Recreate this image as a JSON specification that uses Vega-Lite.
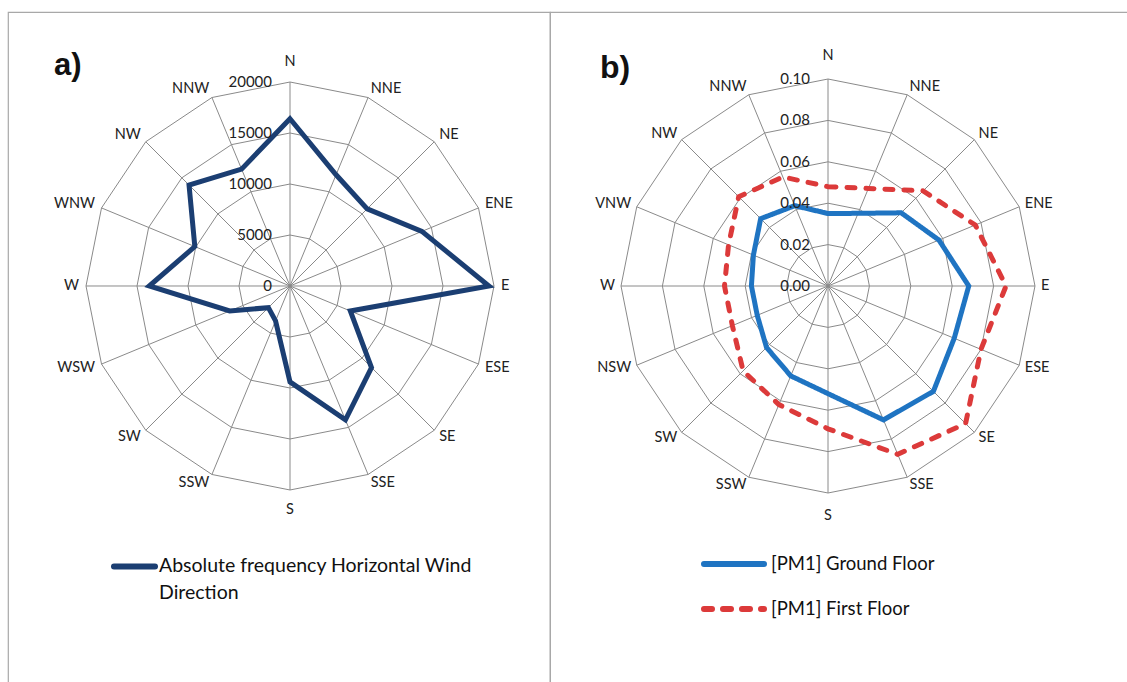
{
  "$schema": "https://vega.github.io/schema/vega-lite/v6.json",
  "padding": {"left": 7, "top": 11, "right": 0, "bottom": 0},
  "spacing": 0,
  "bounds": "flush",
  "background": "white",
  "config": {
    "view": {"stroke": "#a8a8a8", "strokeWidth": 1.2},
    "font": "Lato",
    "style": {"guide-label": {"lineHeight": 27}}
  },
  "datasets": {
    "dirs": [
      {"dir": "N", "deg": 0, "ringA": [5000, 10000, 15000, 20000], "ringB": [0.02, 0.04, 0.06, 0.08, 0.1]},
      {"dir": "NNE", "deg": 22.5, "ringA": [5000, 10000, 15000, 20000], "ringB": [0.02, 0.04, 0.06, 0.08, 0.1]},
      {"dir": "NE", "deg": 45, "ringA": [5000, 10000, 15000, 20000], "ringB": [0.02, 0.04, 0.06, 0.08, 0.1]},
      {"dir": "ENE", "deg": 67.5, "ringA": [5000, 10000, 15000, 20000], "ringB": [0.02, 0.04, 0.06, 0.08, 0.1]},
      {"dir": "E", "deg": 90, "ringA": [5000, 10000, 15000, 20000], "ringB": [0.02, 0.04, 0.06, 0.08, 0.1]},
      {"dir": "ESE", "deg": 112.5, "ringA": [5000, 10000, 15000, 20000], "ringB": [0.02, 0.04, 0.06, 0.08, 0.1]},
      {"dir": "SE", "deg": 135, "ringA": [5000, 10000, 15000, 20000], "ringB": [0.02, 0.04, 0.06, 0.08, 0.1]},
      {"dir": "SSE", "deg": 157.5, "ringA": [5000, 10000, 15000, 20000], "ringB": [0.02, 0.04, 0.06, 0.08, 0.1]},
      {"dir": "S", "deg": 180, "ringA": [5000, 10000, 15000, 20000], "ringB": [0.02, 0.04, 0.06, 0.08, 0.1]},
      {"dir": "SSW", "deg": 202.5, "ringA": [5000, 10000, 15000, 20000], "ringB": [0.02, 0.04, 0.06, 0.08, 0.1]},
      {"dir": "SW", "deg": 225, "ringA": [5000, 10000, 15000, 20000], "ringB": [0.02, 0.04, 0.06, 0.08, 0.1]},
      {"dir": "WSW", "deg": 247.5, "lb": "NSW", "ringA": [5000, 10000, 15000, 20000], "ringB": [0.02, 0.04, 0.06, 0.08, 0.1]},
      {"dir": "W", "deg": 270, "ringA": [5000, 10000, 15000, 20000], "ringB": [0.02, 0.04, 0.06, 0.08, 0.1]},
      {"dir": "WNW", "deg": 292.5, "lb": "VNW", "ringA": [5000, 10000, 15000, 20000], "ringB": [0.02, 0.04, 0.06, 0.08, 0.1]},
      {"dir": "NW", "deg": 315, "ringA": [5000, 10000, 15000, 20000], "ringB": [0.02, 0.04, 0.06, 0.08, 0.1]},
      {"dir": "NNW", "deg": 337.5, "ringA": [5000, 10000, 15000, 20000], "ringB": [0.02, 0.04, 0.06, 0.08, 0.1]}
    ],
    "ticksA": [
      {"level": 0, "label": "0"},
      {"level": 5000, "label": "5000"},
      {"level": 10000, "label": "10000"},
      {"level": 15000, "label": "15000"},
      {"level": 20000, "label": "20000"}
    ],
    "ticksB": [
      {"level": 0, "label": "0.00"},
      {"level": 0.02, "label": "0.02"},
      {"level": 0.04, "label": "0.04"},
      {"level": 0.06, "label": "0.06"},
      {"level": 0.08, "label": "0.08"},
      {"level": 0.1, "label": "0.10"}
    ],
    "wind": [
      {"dir": "N", "value": 16400},
      {"dir": "NNE", "value": 11800},
      {"dir": "NE", "value": 10700},
      {"dir": "ENE", "value": 14000},
      {"dir": "E", "value": 19500},
      {"dir": "ESE", "value": 6400},
      {"dir": "SE", "value": 11300},
      {"dir": "SSE", "value": 14200},
      {"dir": "S", "value": 9400},
      {"dir": "SSW", "value": 3700},
      {"dir": "SW", "value": 3000},
      {"dir": "WSW", "value": 6400},
      {"dir": "W", "value": 13800},
      {"dir": "WNW", "value": 10100},
      {"dir": "NW", "value": 14000},
      {"dir": "NNW", "value": 12400}
    ],
    "pm": [
      {"series": "[PM1] Ground Floor", "dir": "N", "value": 0.035},
      {"series": "[PM1] Ground Floor", "dir": "NNE", "value": 0.038},
      {"series": "[PM1] Ground Floor", "dir": "NE", "value": 0.050},
      {"series": "[PM1] Ground Floor", "dir": "ENE", "value": 0.058},
      {"series": "[PM1] Ground Floor", "dir": "E", "value": 0.068},
      {"series": "[PM1] Ground Floor", "dir": "ESE", "value": 0.066},
      {"series": "[PM1] Ground Floor", "dir": "SE", "value": 0.072},
      {"series": "[PM1] Ground Floor", "dir": "SSE", "value": 0.070},
      {"series": "[PM1] Ground Floor", "dir": "S", "value": 0.052},
      {"series": "[PM1] Ground Floor", "dir": "SSW", "value": 0.047},
      {"series": "[PM1] Ground Floor", "dir": "SW", "value": 0.042},
      {"series": "[PM1] Ground Floor", "dir": "WSW", "value": 0.037},
      {"series": "[PM1] Ground Floor", "dir": "W", "value": 0.037},
      {"series": "[PM1] Ground Floor", "dir": "WNW", "value": 0.039},
      {"series": "[PM1] Ground Floor", "dir": "NW", "value": 0.046},
      {"series": "[PM1] Ground Floor", "dir": "NNW", "value": 0.042},
      {"series": "[PM1] First Floor", "dir": "N", "value": 0.048},
      {"series": "[PM1] First Floor", "dir": "NNE", "value": 0.051},
      {"series": "[PM1] First Floor", "dir": "NE", "value": 0.065},
      {"series": "[PM1] First Floor", "dir": "ENE", "value": 0.077},
      {"series": "[PM1] First Floor", "dir": "E", "value": 0.086},
      {"series": "[PM1] First Floor", "dir": "ESE", "value": 0.080},
      {"series": "[PM1] First Floor", "dir": "SE", "value": 0.094},
      {"series": "[PM1] First Floor", "dir": "SSE", "value": 0.088},
      {"series": "[PM1] First Floor", "dir": "S", "value": 0.069},
      {"series": "[PM1] First Floor", "dir": "SSW", "value": 0.062},
      {"series": "[PM1] First Floor", "dir": "SW", "value": 0.058},
      {"series": "[PM1] First Floor", "dir": "WSW", "value": 0.050},
      {"series": "[PM1] First Floor", "dir": "W", "value": 0.050},
      {"series": "[PM1] First Floor", "dir": "WNW", "value": 0.052},
      {"series": "[PM1] First Floor", "dir": "NW", "value": 0.061},
      {"series": "[PM1] First Floor", "dir": "NNW", "value": 0.057}
    ]
  },
  "hconcat": [
    {
      "width": 542,
      "height": 671,
      "encoding": {
        "x": {"field": "x", "type": "quantitative", "axis": null, "scale": {"domain": [-27647, 25490], "nice": false, "zero": false}},
        "y": {"field": "y", "type": "quantitative", "axis": null, "scale": {"domain": [-38922, 26863], "nice": false, "zero": false}}
      },
      "layer": [
        {
          "data": {"name": "dirs"},
          "transform": [
            {"flatten": ["ringA"], "as": ["r"]},
            {"calculate": "datum.r * sin(datum.deg * PI / 180)", "as": "x"},
            {"calculate": "datum.r * cos(datum.deg * PI / 180)", "as": "y"}
          ],
          "mark": {"type": "line", "interpolate": "linear-closed", "stroke": "#8a8a8a", "strokeWidth": 1},
          "encoding": {"detail": {"field": "r", "type": "nominal"}, "order": {"field": "deg", "type": "quantitative"}}
        },
        {
          "data": {"name": "dirs"},
          "transform": [
            {"calculate": "0", "as": "x"},
            {"calculate": "0", "as": "y"},
            {"calculate": "20000 * sin(datum.deg * PI / 180)", "as": "x2"},
            {"calculate": "20000 * cos(datum.deg * PI / 180)", "as": "y2"}
          ],
          "mark": {"type": "rule", "stroke": "#8a8a8a", "strokeWidth": 1},
          "encoding": {"x2": {"field": "x2"}, "y2": {"field": "y2"}}
        },
        {
          "data": {"name": "wind"},
          "transform": [
            {"lookup": "dir", "from": {"data": {"name": "dirs"}, "key": "dir", "fields": ["deg"]}},
            {"calculate": "datum.value * sin(datum.deg * PI / 180)", "as": "x"},
            {"calculate": "datum.value * cos(datum.deg * PI / 180)", "as": "y"}
          ],
          "mark": {"type": "line", "interpolate": "linear-closed", "strokeWidth": 5, "strokeJoin": "miter"},
          "encoding": {
            "order": {"field": "deg", "type": "quantitative"},
            "color": {
              "datum": "Absolute frequency Horizontal Wind Direction",
              "type": "nominal",
              "scale": {"range": ["#1b3e72"]},
              "legend": {
                "orient": "none", "legendX": 103, "legendY": 531, "title": null, "padding": 0,
                "symbolType": "stroke", "symbolSize": 1681, "symbolStrokeWidth": 6,
                "labelFontSize": 19.5, "labelFont": "Lato", "labelColor": "#111", "labelOffset": 1, "labelLimit": 500,
                "labelBaseline": "top",
                "labelExpr": "['Absolute frequency Horizontal Wind', 'Direction']",
                "encode": {
                  "symbols": {"update": {"strokeCap": {"value": "round"}}},
                  "labels": {"update": {"dy": {"value": -10}}}
                }
              }
            }
          }
        },
        {
          "data": {"name": "dirs"},
          "transform": [
            {"filter": "datum.deg > 0 && datum.deg < 180"},
            {"calculate": "20686 * sin(datum.deg * PI / 180)", "as": "x"},
            {"calculate": "20882 * cos(datum.deg * PI / 180)", "as": "y"}
          ],
          "mark": {"type": "text", "fontSize": 14.5, "color": "#222", "align": "left", "baseline": "middle"},
          "encoding": {"text": {"field": "dir"}}
        },
        {
          "data": {"name": "dirs"},
          "transform": [
            {"filter": "datum.deg > 180"},
            {"calculate": "20686 * sin(datum.deg * PI / 180)", "as": "x"},
            {"calculate": "20882 * cos(datum.deg * PI / 180)", "as": "y"}
          ],
          "mark": {"type": "text", "fontSize": 14.5, "color": "#222", "align": "right", "baseline": "middle"},
          "encoding": {"text": {"field": "dir"}}
        },
        {
          "data": {"name": "dirs"},
          "transform": [
            {"filter": "datum.deg == 0 || datum.deg == 180"},
            {"calculate": "0", "as": "x"},
            {"calculate": "21961 * cos(datum.deg * PI / 180)", "as": "y"}
          ],
          "mark": {"type": "text", "fontSize": 14.5, "color": "#222", "align": "center", "baseline": "middle"},
          "encoding": {"text": {"field": "dir"}}
        },
        {
          "data": {"name": "ticksA"},
          "transform": [
            {"calculate": "0", "as": "x"},
            {"calculate": "datum.level", "as": "y"}
          ],
          "mark": {"type": "text", "fontSize": 15, "color": "#222", "align": "right", "baseline": "middle", "dx": -18},
          "encoding": {"text": {"field": "label"}}
        },
        {
          "data": {"values": [{"t": "a)"}]},
          "transform": [
            {"calculate": "-23137", "as": "x"},
            {"calculate": "20686", "as": "y"}
          ],
          "mark": {"type": "text", "font": "Liberation Sans", "fontWeight": "bold", "fontSize": 31, "color": "#111", "align": "left", "baseline": "alphabetic"},
          "encoding": {"text": {"field": "t"}}
        }
      ]
    },
    {
      "width": 578,
      "height": 671,
      "encoding": {
        "x": {"field": "x", "type": "quantitative", "axis": null, "scale": {"domain": [-0.1343, 0.144928], "nice": false, "zero": false}},
        "y": {"field": "y", "type": "quantitative", "axis": null, "scale": {"domain": [-0.191787, 0.132367], "nice": false, "zero": false}}
      },
      "layer": [
        {
          "data": {"name": "dirs"},
          "transform": [
            {"flatten": ["ringB"], "as": ["r"]},
            {"calculate": "datum.r * sin(datum.deg * PI / 180)", "as": "x"},
            {"calculate": "datum.r * cos(datum.deg * PI / 180)", "as": "y"}
          ],
          "mark": {"type": "line", "interpolate": "linear-closed", "stroke": "#8a8a8a", "strokeWidth": 1},
          "encoding": {"detail": {"field": "r", "type": "nominal"}, "order": {"field": "deg", "type": "quantitative"}}
        },
        {
          "data": {"name": "dirs"},
          "transform": [
            {"calculate": "0", "as": "x"},
            {"calculate": "0", "as": "y"},
            {"calculate": "0.1 * sin(datum.deg * PI / 180)", "as": "x2"},
            {"calculate": "0.1 * cos(datum.deg * PI / 180)", "as": "y2"}
          ],
          "mark": {"type": "rule", "stroke": "#8a8a8a", "strokeWidth": 1},
          "encoding": {"x2": {"field": "x2"}, "y2": {"field": "y2"}}
        },
        {
          "data": {"name": "pm"},
          "transform": [
            {"lookup": "dir", "from": {"data": {"name": "dirs"}, "key": "dir", "fields": ["deg"]}},
            {"calculate": "datum.value * sin(datum.deg * PI / 180)", "as": "x"},
            {"calculate": "datum.value * cos(datum.deg * PI / 180)", "as": "y"}
          ],
          "mark": {"type": "line", "interpolate": "linear-closed", "strokeWidth": 5, "strokeJoin": "miter", "strokeCap": "round"},
          "encoding": {
            "order": {"field": "deg", "type": "quantitative"},
            "color": {
              "field": "series", "type": "nominal",
              "scale": {"domain": ["[PM1] Ground Floor", "[PM1] First Floor"], "range": ["#1f74c2", "#dc3a3a"]},
              "legend": {
                "orient": "none", "legendX": 151, "legendY": 519, "title": null, "padding": 0,
                "symbolType": "stroke", "symbolSize": 3600, "symbolStrokeWidth": 6,
                "labelFontSize": 18.5, "labelFont": "Lato", "labelColor": "#111", "labelOffset": 4, "labelLimit": 400, "rowPadding": -3,
                "encode": {"symbols": {"update": {"strokeCap": {"value": "round"}}}}
              }
            },
            "strokeDash": {
              "field": "series", "type": "nominal",
              "scale": {"domain": ["[PM1] Ground Floor", "[PM1] First Floor"], "range": [[1, 0], [8, 11]]},
              "legend": null
            }
          }
        },
        {
          "data": {"name": "dirs"},
          "transform": [
            {"filter": "datum.deg > 0 && datum.deg < 180"},
            {"calculate": "0.1029 * sin(datum.deg * PI / 180)", "as": "x"},
            {"calculate": "0.10386 * cos(datum.deg * PI / 180)", "as": "y"},
            {"calculate": "datum.lb ? datum.lb : datum.dir", "as": "name"}
          ],
          "mark": {"type": "text", "fontSize": 14.5, "color": "#222", "align": "left", "baseline": "middle"},
          "encoding": {"text": {"field": "name"}}
        },
        {
          "data": {"name": "dirs"},
          "transform": [
            {"filter": "datum.deg > 180"},
            {"calculate": "0.1029 * sin(datum.deg * PI / 180)", "as": "x"},
            {"calculate": "0.10386 * cos(datum.deg * PI / 180)", "as": "y"},
            {"calculate": "datum.lb ? datum.lb : datum.dir", "as": "name"}
          ],
          "mark": {"type": "text", "fontSize": 14.5, "color": "#222", "align": "right", "baseline": "middle"},
          "encoding": {"text": {"field": "name"}}
        },
        {
          "data": {"name": "dirs"},
          "transform": [
            {"filter": "datum.deg == 0 || datum.deg == 180"},
            {"calculate": "0", "as": "x"},
            {"calculate": "0.1111 * cos(datum.deg * PI / 180)", "as": "y"}
          ],
          "mark": {"type": "text", "fontSize": 14.5, "color": "#222", "align": "center", "baseline": "middle"},
          "encoding": {"text": {"field": "dir"}}
        },
        {
          "data": {"name": "ticksB"},
          "transform": [
            {"calculate": "0", "as": "x"},
            {"calculate": "datum.level", "as": "y"}
          ],
          "mark": {"type": "text", "fontSize": 15, "color": "#222", "align": "right", "baseline": "middle", "dx": -18},
          "encoding": {"text": {"field": "label"}}
        },
        {
          "data": {"values": [{"t": "b)"}]},
          "transform": [
            {"calculate": "-0.11014", "as": "x"},
            {"calculate": "0.10048", "as": "y"}
          ],
          "mark": {"type": "text", "font": "Liberation Sans", "fontWeight": "bold", "fontSize": 32, "color": "#111", "align": "left", "baseline": "alphabetic"},
          "encoding": {"text": {"field": "t"}}
        }
      ]
    }
  ],
  "resolve": {
    "scale": {"color": "independent", "strokeDash": "independent"},
    "legend": {"color": "independent", "strokeDash": "independent"}
  }
}
